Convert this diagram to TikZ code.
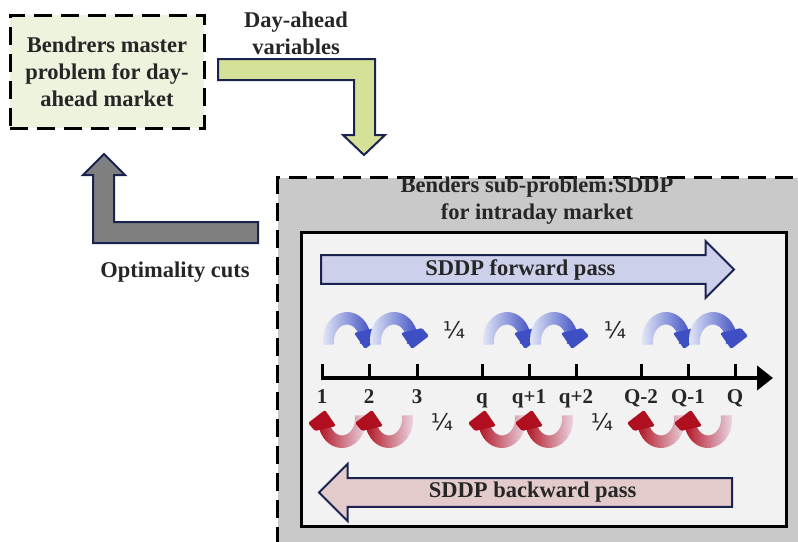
\documentclass[tikz,border=0pt]{standalone}
\usepackage{fontspec}
\setmainfont{Liberation Serif}
\newfontfamily\fracfont{DejaVu Sans}
\usetikzlibrary{positioning,arrows.meta,shapes.arrows,calc}
\usepackage{xcolor}
\definecolor{ink}{HTML}{262626}
\definecolor{navy}{HTML}{1A2250}
\definecolor{masterfill}{HTML}{EEF3DE}
\definecolor{dayfill}{HTML}{D5E196}
\definecolor{cutfill}{HTML}{7F7F7F}
\definecolor{subfill}{HTML}{C9C9C9}
\definecolor{panelfill}{HTML}{F2F2F2}
\definecolor{fwdfill}{HTML}{CDD0EB}
\definecolor{bwdfill}{HTML}{E3CBCB}
\definecolor{hopblue}{HTML}{3D4FC3}
\definecolor{hopbluelight}{HTML}{E8EBF8}
\definecolor{hopred}{HTML}{B00F1F}
\definecolor{hopredlight}{HTML}{ECDDEA}

\tikzset{
  labeltext/.style={font=\fontsize{22.5}{27}\selectfont\bfseries, text=ink, align=center},
  dashbox/.style={draw=black, line width=3pt, dash pattern=on 18pt off 9pt},
  fatarrow/.style={draw=navy, line width=2pt, line join=miter},
  passarrow/.style={single arrow, draw=navy, line width=2pt, single arrow head extend=11pt,
    minimum width=57pt, minimum height=413pt, inner sep=0pt, labeltext},
  ticklabel/.style={font=\fontsize{21}{25}\selectfont\bfseries, text=ink, anchor=base},
  quarter/.style={font=\fracfont\fontsize{23}{26}\selectfont, text=ink},
  hophead/.style={rounded corners=1.5pt},
}

% forward hop above the axis, starting at tick #1
\newcommand{\fwdhop}[1]{%
  \shade[left color=hopbluelight, middle color=hopblue!80!hopbluelight, right color=hopblue]
    ($(#1)+(25,-38)$) ++(170:24 and 28) arc[start angle=170, end angle=368, x radius=24, y radius=28]
    -- ++(-11,0) arc[start angle=368, end angle=170, x radius=13, y radius=17] -- cycle;
  \fill[hopblue, hophead, shift={(#1)}] (43,-29) -- (32,-45) -- (53,-50) -- (60,-42) -- cycle;
}
% backward hop below the axis, ending at tick #1
\newcommand{\bwdhop}[1]{%
  \shade[left color=hopred, middle color=hopred!85!hopredlight, right color=hopredlight]
    ($(#1)+(20,42)$) ++(350:24 and 28) arc[start angle=350, end angle=548, x radius=24, y radius=28]
    -- ++(11,0) arc[start angle=548, end angle=350, x radius=13, y radius=17] -- cycle;
  \fill[hopred, hophead, shift={(#1)}] (3,32) -- (14,48) -- (-7,53) -- (-14,45) -- cycle;
}

\begin{document}
\begin{tikzpicture}[x=1pt,y=-1pt]
  \useasboundingbox (0,0) rectangle (798,541);

  % master problem
  \node[dashbox, fill=masterfill, minimum width=194pt, minimum height=113pt, labeltext]
    (master) at (107,71.5) {Bendrers master\\problem for day-\\ahead market};

  % day-ahead variables
  \coordinate (dastart) at (218,69.5);
  \coordinate (datip) at (364,155);
  \draw[fatarrow, fill=dayfill] (dastart) ++(0,-10.5) -- ++(157,0) -- ++(0,76) -- ++(10,0)
    -- (datip) -- ++(-21,-20) -- ++(11,0) -- ++(0,-55) -- ++(-136,0) -- cycle;
  \node[labeltext] (daylabel) at (296,33) {Day-ahead\\variables};

  % optimality cuts
  \coordinate (cutstart) at (258,232.5);
  \coordinate (cuttip) at (104,154);
  \draw[fatarrow, fill=cutfill] (cutstart) ++(0,10.5) -- ++(-165,0) -- ++(0,-68) -- ++(-10,0)
    -- (cuttip) -- ++(21,21) -- ++(-11,0) -- ++(0,47) -- ++(144,0) -- cycle;
  \node[labeltext] (cutlabel) at (175,272) {Optimality cuts};

  % sub-problem
  \node[dashbox, fill=subfill, anchor=north west, minimum width=540pt, minimum height=380pt,
    inner sep=0pt] (sub) at (276,176) {};
  \node[labeltext] (subtitle) at (537,201) {Benders sub-problem:SDDP\\for intraday market};
  \node[draw=black, line width=3pt, fill=panelfill, anchor=north west, minimum width=485pt,
    minimum height=294pt, inner sep=0pt] (panel) at (300,231) {};

  \node[passarrow, fill=fwdfill, anchor=tail] (fwd) at (320,269.5) {SDDP forward pass};
  \node[passarrow, fill=bwdfill, shape border rotate=180, anchor=tail] (bwd) at (733,492.5)
    {SDDP backward pass};

  % stage axis
  \foreach \x [count=\i] in {322,369,417,482,529,576,641,688,735}
    \coordinate (t\i) at (\x,378);
  \coordinate (axisend) at (773,378);
  \draw[line width=4pt, -{Triangle[length=16pt,width=24pt]}] ($(t1)+(-1.5,0)$) -- (axisend);
  \foreach \i in {1,...,9}
    \draw[line width=3pt] (t\i) -- ++(0,-14);
  \foreach \s [count=\i] in {1,2,3,q,q+1,q+2,Q-2,Q-1,Q}
    \node[ticklabel] (l\i) at ($(t\i)+(0,25)$) {\s};

  \foreach \i in {1,2,4,5,7,8} {
    \fwdhop{t\i}
    \bwdhop{t\i}
  }
  \node[quarter] (qa) at (454,330) {¼};
  \node[quarter] (qb) at (615,330) {¼};
  \node[quarter] (qc) at (442,422) {¼};
  \node[quarter] (qd) at (602,422) {¼};
\end{tikzpicture}
\end{document}
